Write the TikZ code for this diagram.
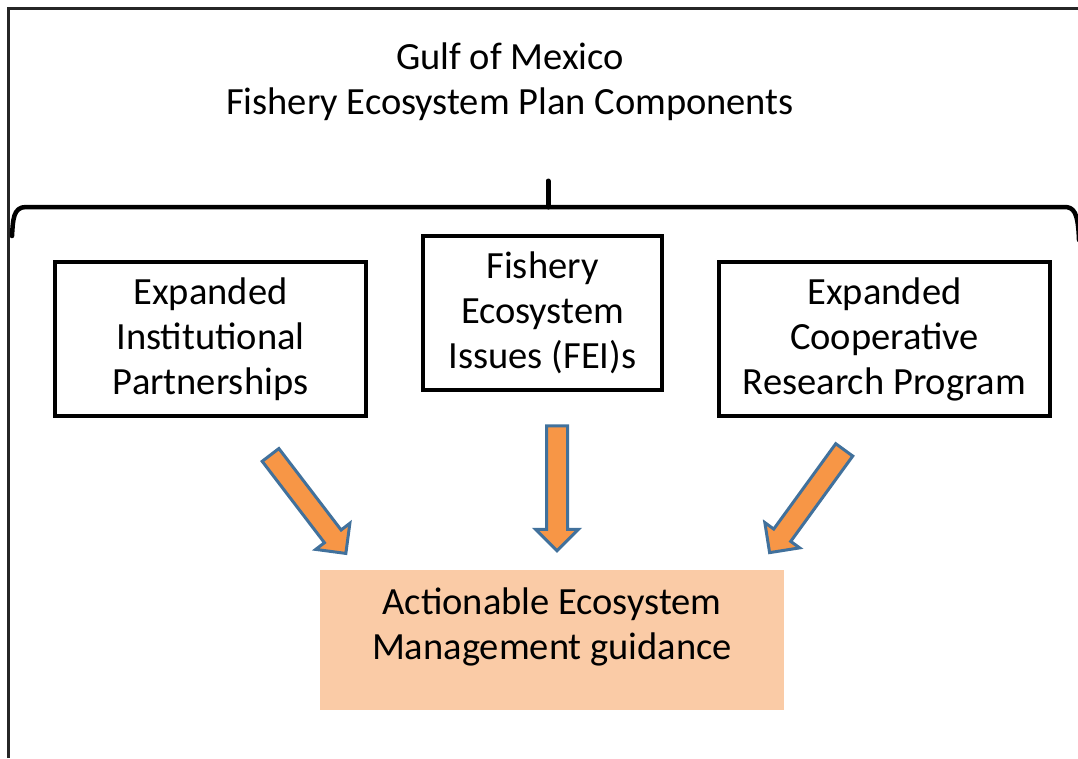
\documentclass[tikz,border=0pt]{standalone}
\usepackage{fontspec}
\setmainfont{Carlito}
\usepackage{tikz}
\usetikzlibrary{shapes.arrows,positioning}
\definecolor{boxfill}{HTML}{FACBA6}
\definecolor{arrfill}{HTML}{F79646}
\definecolor{arrline}{HTML}{41719C}
\tikzstyle{component} = [rectangle, minimum height=154pt, text centered, align=center, draw=black, line width=3.5pt, inner sep=0pt]
\tikzstyle{guidance} = [rectangle, minimum width=464pt, minimum height=140pt, fill=boxfill]
\tikzstyle{bigarrow} = [single arrow, fill=arrfill, draw=arrline, line width=3pt, inner xsep=0pt, inner ysep=9pt, single arrow head extend=11pt, single arrow head indent=0pt]
\tikzstyle{brace} = [line width=4.5pt, line cap=round, line join=round]

\begin{document}
\begin{tikzpicture}[x=1pt, y=-1pt, node distance=332pt, font=\fontsize{38.5}{45}\selectfont]
\useasboundingbox (0,0) rectangle (1078,758);

% frame
\draw[line width=3pt, black!85] (8.5,758) -- (8.5,8) -- (1078,8);

% title
\node (title) [align=center] at (510,82) {Gulf of Mexico\\Fishery Ecosystem Plan Components};

% brace
\draw[brace] (12,236) .. controls (13,220) and (13,207) .. (26,207) -- (1064,207) .. controls (1074,207) and (1078,212) .. (1079,240);
\draw[brace, line width=5pt] (548,207) -- (548,181);

% components
\node (partners) [component, minimum width=311pt] at (210.5,339) {Expanded\\Institutional\\Partnerships};
\node (issues) [component, minimum width=239pt, right of=partners, yshift=26pt] {Fishery\\Ecosystem\\Issues (FEI)s};
\node (research) [component, minimum width=331pt, right of=issues, xshift=10pt, yshift=-26pt] {Expanded\\Cooperative\\Research Program};

\node (guidance) [guidance] at (552,640) {};
\node (guidetext) [align=center] at ([yshift=13pt]guidance.center) {Actionable Ecosystem\\Management guidance};

% arrows
\node (arrleft) [bigarrow, rotate=-52.6, minimum height=124pt] at (305,500) {};
\node (arrmid) [bigarrow, rotate=-90, minimum height=125pt] at (557,483) {};
\node (arrright) [bigarrow, rotate=-126, minimum height=127pt] at (810,497) {};
\end{tikzpicture}
\end{document}
